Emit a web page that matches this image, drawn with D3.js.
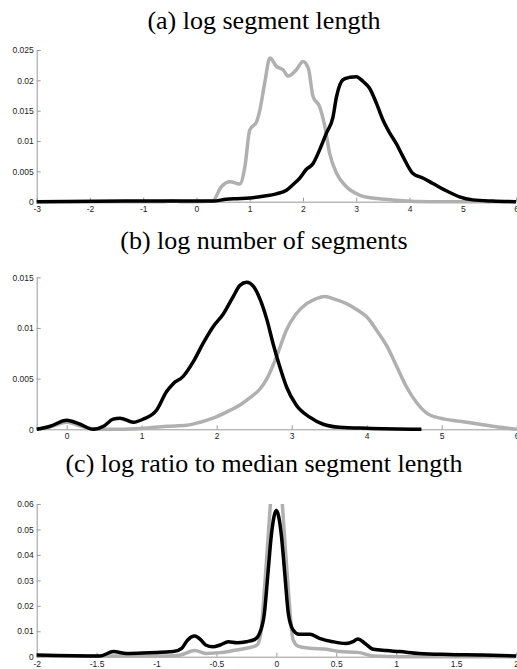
<!DOCTYPE html>
<html>
<head>
<meta charset="utf-8">
<script src="https://cdn.jsdelivr.net/npm/d3@7"></script>
<style>
  html, body { margin: 0; padding: 0; background: #fff; }
  svg { display: block; }
  .tick text { font-family: "Liberation Sans", Arial, sans-serif; font-size: 8.5px; fill: #222; }
  .title { font-family: "Liberation Serif", "Times New Roman", serif; font-size: 26px; fill: #000; }
</style>
</head>
<body>
<svg id="chart" width="517" height="669"></svg>
<script>
// ---------- Panel (a): log segment length ----------
const aTitle = "(a) log segment length";
const aXTicks = [-3, -2, -1, 0, 1, 2, 3, 4, 5, 6];
const aYTicks = [0, 0.005, 0.01, 0.015, 0.02, 0.025];
const aGrayX = [-3, -1, -0.6, -0.45, -0.3, 0, 0.3, 0.47, 0.63, 0.81, 0.91, 1.0, 1.13, 1.19, 1.28, 1.38, 1.5, 1.63, 1.72, 1.88, 2.0, 2.1, 2.19, 2.31, 2.41, 2.5, 2.63, 2.81, 3.06, 3.31, 3.56, 3.81, 4.4, 5, 6];
const aGrayY = [0, 0, 0, 0.00015, 0, 0, 0.0001, 0.0025, 0.0033, 0.0029, 0.0058, 0.0118, 0.0132, 0.0151, 0.0195, 0.0237, 0.0223, 0.0217, 0.0207, 0.0218, 0.0231, 0.022, 0.0173, 0.0157, 0.0124, 0.008, 0.0047, 0.0025, 0.0011, 0.0006, 0.0004, 0.0002, 0, 0, 0];
const aBlackX = [-3, -1, 0, 0.31, 0.56, 0.75, 1.0, 1.25, 1.5, 1.69, 1.81, 1.94, 2.06, 2.19, 2.31, 2.44, 2.56, 2.63, 2.75, 2.88, 3.0, 3.13, 3.25, 3.38, 3.5, 3.63, 3.75, 3.88, 4.06, 4.25, 4.44, 4.69, 4.94, 5.19, 5.56, 6];
const aBlackY = [0, 0.0001, 0.0001, 0.0001, 0.0004, 0.0005, 0.0006, 0.0009, 0.0013, 0.0019, 0.0028, 0.0039, 0.0053, 0.0063, 0.0085, 0.0113, 0.0138, 0.0173, 0.0201, 0.0205, 0.0206, 0.0198, 0.0187, 0.0162, 0.0135, 0.0113, 0.0096, 0.0074, 0.0047, 0.0039, 0.003, 0.0018, 0.0008, 0.0003, 0.0001, 0];

// ---------- Panel (b): log number of segments ----------
const bTitle = "(b) log number of segments";
const bXTicks = [0, 1, 2, 3, 4, 5, 6];
const bYTicks = [0, 0.005, 0.01, 0.015];
const bBlackX = [-0.4, -0.22, 0.0, 0.18, 0.35, 0.49, 0.62, 0.71, 0.89, 1.02, 1.2, 1.33, 1.42, 1.55, 1.69, 1.82, 1.95, 2.09, 2.22, 2.31, 2.4, 2.49, 2.58, 2.67, 2.75, 2.84, 2.93, 3.06, 3.24, 3.42, 3.64, 4.0, 4.73];
const bBlackY = [0, 0.0003, 0.0009, 0.0005, 0, 0.0003, 0.001, 0.0011, 0.0007, 0.001, 0.0019, 0.0037, 0.0045, 0.0052, 0.0067, 0.0085, 0.0101, 0.0114, 0.0131, 0.0142, 0.0145, 0.0141, 0.0128, 0.0108, 0.0085, 0.0062, 0.0042, 0.0024, 0.0012, 0.0005, 0.0002, 0.0001, 0];
const bGrayX = [-0.4, -0.2, 0.0, 0.2, 0.4, 0.7, 1.02, 1.33, 1.6, 1.78, 1.95, 2.13, 2.31, 2.44, 2.58, 2.67, 2.8, 2.93, 3.06, 3.2, 3.33, 3.44, 3.55, 3.73, 3.87, 4.0, 4.13, 4.27, 4.4, 4.53, 4.67, 4.8, 4.98, 5.24, 5.51, 5.78, 6.0];
const bGrayY = [0, 0.0003, 0.0007, 0.0003, 0, 0, 0.0001, 0.0003, 0.0004, 0.0007, 0.0011, 0.0017, 0.0024, 0.0031, 0.004, 0.005, 0.0072, 0.0098, 0.0114, 0.0124, 0.0129, 0.0131, 0.0129, 0.0124, 0.0118, 0.0111, 0.0098, 0.0082, 0.0062, 0.0042, 0.0026, 0.0016, 0.0011, 0.0008, 0.0005, 0.0002, 0];

// ---------- Panel (c): log ratio to median segment length ----------
const cTitle = "(c) log ratio to median segment length";
const cXTicks = [-2, -1.5, -1, -0.5, 0, 0.5, 1, 1.5, 2];
const cYTicks = [0, 0.01, 0.02, 0.03, 0.04, 0.05, 0.06];
const cBlackX = [-2, -1.47, -1.36, -1.25, -1.06, -0.86, -0.79, -0.74, -0.68, -0.63, -0.59, -0.53, -0.47, -0.4, -0.33, -0.25, -0.18, -0.14, -0.1, -0.07, -0.04, 0.0, 0.04, 0.07, 0.1, 0.14, 0.19, 0.28, 0.36, 0.47, 0.58, 0.64, 0.68, 0.74, 0.81, 0.92, 1.03, 1.19, 1.44, 1.72, 2.0];
const cBlackY = [0.0007, 0.0003, 0.002, 0.0013, 0.0016, 0.002, 0.0033, 0.0066, 0.0081, 0.0066, 0.0046, 0.0039, 0.0046, 0.0059, 0.0055, 0.0059, 0.0068, 0.0092, 0.017, 0.0328, 0.0485, 0.0574, 0.0485, 0.0328, 0.017, 0.0105, 0.0088, 0.0088, 0.0072, 0.0059, 0.0052, 0.0059, 0.007, 0.0052, 0.0029, 0.0024, 0.002, 0.0013, 0.0009, 0.0007, 0.0003];
const cGrayX = [-2, -1.5, -0.9, -0.8, -0.68, -0.59, -0.47, -0.36, -0.25, -0.16, -0.13, -0.1, -0.07, -0.05, 0.0, 0.05, 0.07, 0.1, 0.14, 0.18, 0.28, 0.42, 0.53, 0.68, 0.81, 1.03, 2.0];
const cGrayY = [0.0003, 0.0003, 0.0003, 0.0007, 0.0024, 0.0013, 0.0016, 0.0024, 0.0033, 0.0046, 0.0092, 0.0262, 0.0458, 0.06, 0.085, 0.06, 0.0458, 0.0262, 0.0066, 0.0042, 0.0033, 0.0029, 0.002, 0.0017, 0.0003, 0, 0];

const svg = d3.select("#chart");
const fmt = d => String(+d.toFixed(4)).replace("\u2212", "-");

function panel(cfg) {
  const x = d3.scaleLinear().domain(cfg.xDomain).range([36.7, cfg.xRight]);
  const y = d3.scaleLinear().domain(cfg.yDomain).range([cfg.yBottom, cfg.yTop]);
  const g = svg.append("g");

  g.append("text").attr("class", "title")
    .attr("x", 264).attr("y", cfg.titleY)
    .attr("text-anchor", "middle").text(cfg.title);

  const clipId = "clip" + cfg.id;
  svg.append("clipPath").attr("id", clipId).append("rect")
    .attr("x", 30).attr("y", cfg.yTop).attr("width", 520).attr("height", cfg.yBottom - cfg.yTop + 10);

  const xAxis = g.append("g").attr("transform", `translate(0,${cfg.yBottom})`)
    .call(d3.axisBottom(x).tickValues(cfg.xTicks).tickSizeInner(-4).tickSizeOuter(0).tickPadding(4).tickFormat(fmt));
  const yAxis = g.append("g").attr("transform", `translate(36.7,0)`)
    .call(d3.axisLeft(y).tickValues(cfg.yTicks).tickSizeInner(-4).tickSizeOuter(0).tickPadding(3).tickFormat(fmt));
  [xAxis, yAxis].forEach(a => {
    a.select(".domain").attr("stroke", "#999").attr("stroke-width", 1);
    a.selectAll(".tick line").attr("stroke", "#999");
  });

  const line = d3.line().x(d => x(d[0])).y(d => y(d[1])).curve(d3.curveMonotoneX);
  const plot = g.append("g").attr("clip-path", `url(#${clipId})`);
  plot.append("path").datum(d3.zip(cfg.grayX, cfg.grayY))
    .attr("d", line).attr("fill", "none").attr("stroke", "#b0b0b0")
    .attr("stroke-width", 3.5).attr("stroke-linejoin", "round");
  plot.append("path").datum(d3.zip(cfg.blackX, cfg.blackY))
    .attr("d", line).attr("fill", "none").attr("stroke", "#000")
    .attr("stroke-width", 3.5).attr("stroke-linejoin", "round");
}

panel({ id: "a", title: aTitle, titleY: 29, xDomain: [-3, 6], xRight: 516, yDomain: [0, 0.025],
  yBottom: 201.7, yTop: 50, xTicks: aXTicks, yTicks: aYTicks,
  grayX: aGrayX, grayY: aGrayY, blackX: aBlackX, blackY: aBlackY });
panel({ id: "b", title: bTitle, titleY: 249, xDomain: [-0.4, 6], xRight: 516.7, yDomain: [0, 0.015],
  yBottom: 429.3, yTop: 277.3, xTicks: bXTicks, yTicks: bYTicks,
  grayX: bGrayX, grayY: bGrayY, blackX: bBlackX, blackY: bBlackY });
panel({ id: "c", title: cTitle, titleY: 472, xDomain: [-2, 2], xRight: 516, yDomain: [0, 0.06],
  yBottom: 656.7, yTop: 504, xTicks: cXTicks, yTicks: cYTicks,
  grayX: cGrayX, grayY: cGrayY, blackX: cBlackX, blackY: cBlackY });
</script>
</body>
</html>
